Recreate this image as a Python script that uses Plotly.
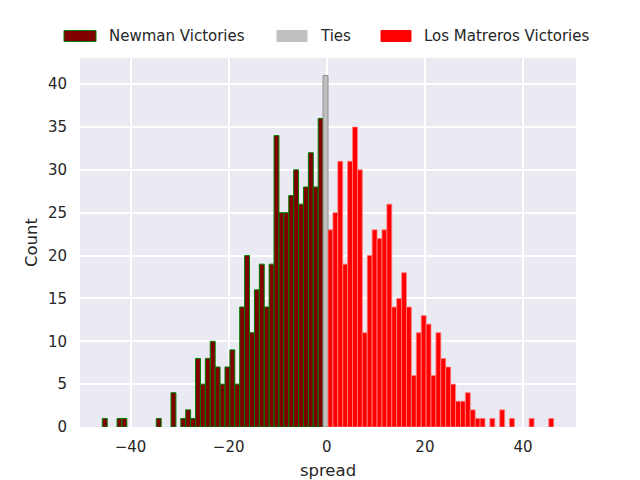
import plotly.graph_objects as go

# Data (spread value -> count)
newman_spread = [-45, -42, -41, -34, -31, -29, -28, -27, -26, -25, -24, -23, -22, -21, -20,
                 -19, -18, -17, -16, -15, -14, -13, -12, -11, -10, -9, -8, -7, -6, -5,
                 -4, -3, -2, -1]
newman_count = [1, 1, 1, 1, 4, 1, 2, 1, 8, 5, 8, 10, 7, 5, 7,
                9, 5, 14, 20, 11, 16, 19, 14, 19, 34, 25, 25, 27, 30, 26,
                28, 32, 28, 36]

ties_spread = [0]
ties_count = [41]

lm_spread = [1, 2, 3, 4, 5, 6, 7, 8, 9, 10, 11, 12, 13, 14, 15, 16, 17, 18, 19, 20,
             21, 22, 23, 24, 25, 26, 27, 28, 29, 30, 31, 32, 34, 36, 38, 42, 46]
lm_count = [23, 25, 31, 19, 31, 35, 30, 11, 20, 23, 22, 23, 26, 14, 15, 18, 14, 6, 11, 13,
            12, 6, 11, 8, 7, 5, 3, 3, 4, 2, 1, 1, 1, 2, 1, 1, 1]

series_names = ["Newman Victories", "Ties", "Los Matreros Victories"]

x_ticks = [-40, -20, 0, 20, 40]
y_ticks = [0, 5, 10, 15, 20, 25, 30, 35, 40]

FONT = "DejaVu Sans"
TXT = "#262626"

W, H = 640, 480
ML, MR, MT, MB = 80, 64, 58, 53
PW, PH = W - ML - MR, H - MT - MB


def px_x(p):
    return (p - ML) / PW


def px_y(p):
    return (H - MB - p) / PH


styles = [
    dict(color="#800000", line=dict(color="#008000", width=1)),
    dict(color="#c0c0c0", line=dict(color="#8c8c8c", width=1)),
    dict(color="#ff0000", line=dict(color="#ff8080", width=0.8)),
]
legend_styles = [
    dict(fill="#800000", line="#008000"),
    dict(fill="#c0c0c0", line="#c0c0c0"),
    dict(fill="#ff0000", line="#ff0000"),
]
legend_patch_x = [(64, 96), (277, 307), (381, 411)]
legend_text_x = [106.5, 318, 422]

fig = go.Figure()
for xs, ys, name, st in zip([newman_spread, ties_spread, lm_spread],
                            [newman_count, ties_count, lm_count], series_names, styles):
    fig.add_trace(go.Bar(x=xs, y=ys, name=name, width=1, offset=-0.75,
                         marker=st, showlegend=False))

shapes = []
annotations = []
for name, ls, (a, b), tx in zip(series_names, legend_styles, legend_patch_x, legend_text_x):
    shapes.append(dict(type="rect", xref="paper", yref="paper",
                       x0=px_x(a), x1=px_x(b), y0=px_y(41.5), y1=px_y(30.5),
                       fillcolor=ls["fill"], line=dict(color=ls["line"], width=1)))
    annotations.append(dict(text=name, xref="paper", yref="paper", x=px_x(tx), y=px_y(36),
                            xanchor="left", yanchor="middle", showarrow=False,
                            font=dict(family=FONT, size=15, color=TXT)))

fig.update_layout(
    width=W, height=H,
    barmode="overlay",
    paper_bgcolor="white",
    plot_bgcolor="#eaeaf2",
    margin=dict(l=ML, r=MR, t=MT, b=MB, autoexpand=False),
    font=dict(family=FONT, size=15, color=TXT),
    showlegend=False,
    shapes=shapes,
    annotations=annotations,
    xaxis=dict(range=[-50.3, 50.8], tickvals=x_ticks, automargin=False,
               ticktext=["\u221240", "\u221220", "0", "20", "40"],
               showgrid=True, gridcolor="white", gridwidth=1.5, zeroline=False,
               showline=False, ticks="outside", ticklen=6, tickcolor="rgba(0,0,0,0)",
               tickfont=dict(family=FONT, size=15, color=TXT),
               title=dict(text="spread", font=dict(family=FONT, size=16.5, color=TXT), standoff=9)),
    yaxis=dict(range=[0, 43.05], tickvals=y_ticks, automargin=False,
               showgrid=True, gridcolor="white", gridwidth=1.5, zeroline=False,
               showline=False, ticks="outside", ticklen=9, tickcolor="rgba(0,0,0,0)",
               tickfont=dict(family=FONT, size=15, color=TXT),
               title=dict(text="Count", font=dict(family=FONT, size=16.5, color=TXT), standoff=6)),
)

fig.write_html("out.html", config={"displayModeBar": False},
               post_script="document.body.style.margin='0';")
